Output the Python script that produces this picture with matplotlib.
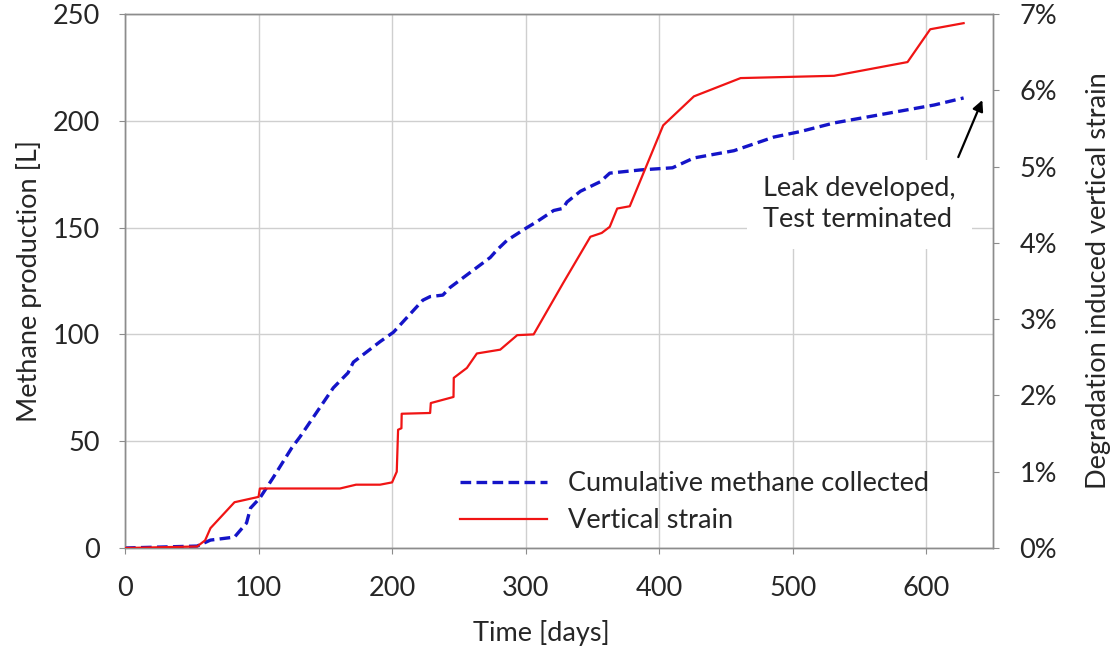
import matplotlib
matplotlib.use("Agg")
import matplotlib.pyplot as plt
from matplotlib.ticker import FuncFormatter

plt.rcParams['font.family'] = ['Lato', 'DejaVu Sans']

# ---- data ----
days_methane = [0, 54, 64, 82, 91, 94, 101, 111, 125, 131, 156, 167, 171, 191, 201,
                223, 228.5, 238, 243.5, 273.5, 278.5, 286, 301, 308.5, 321, 328, 331,
                341, 356, 363, 386, 410, 426, 456, 486, 506, 531, 556, 581, 606, 628]
methane_L = [0, 0.9, 3.7, 5.1, 11.7, 18.7, 23.4, 33, 47, 52, 75, 82, 87, 96.6, 101,
             116, 117.7, 118.4, 122, 136, 139.5, 144, 150, 152.8, 158, 159, 162,
             167, 171.5, 175.5, 177, 178, 182.6, 186, 192.4, 195, 199, 201.8, 204.6, 207.4, 210.7]

days_strain = [0, 54, 60, 64, 82, 100, 101, 161, 173, 191, 200, 203.5, 204.5, 207, 207.2,
               228.5, 229, 246, 246.2, 256, 263.5, 281, 293.7, 306, 328, 348.5, 357, 363,
               368.6, 378, 403, 426, 461, 531, 586, 603, 628]
strain_pct = [0, 0.02, 0.1, 0.26, 0.6, 0.67, 0.78, 0.78, 0.83, 0.83, 0.86, 1.0, 1.55, 1.57, 1.76,
              1.77, 1.9, 1.98, 2.23, 2.36, 2.55, 2.6, 2.79, 2.8, 3.47, 4.08, 4.13, 4.21,
              4.45, 4.48, 5.54, 5.92, 6.16, 6.19, 6.37, 6.8, 6.88]

x_ticks = [0, 100, 200, 300, 400, 500, 600]
y_ticks = [0, 50, 100, 150, 200, 250]
y2_ticks = [0, 1, 2, 3, 4, 5, 6, 7]

label_methane = "Cumulative methane collected"
label_strain = "Vertical strain"
note_text = "Leak developed,\nTest terminated"
note_xy = (642, 209.7)
note_tail = (624, 183)
note_pos = (478, 161)

FS = 19.5
spine_col = '#8c8c8c'
grid_col = '#cfcfcf'
txt_col = '#262626'

fig = plt.figure(figsize=(11.19, 6.55), dpi=100)
ax = fig.add_axes([125/1119, 1 - 548/655, (993-125)/1119, (548-14)/655])
ax2 = ax.twinx()

l1, = ax.plot(days_methane, methane_L, color='#1414c8', lw=2.4, ls=(0, (3.2, 1.6)),
              label=label_methane, zorder=3)
l2, = ax2.plot(days_strain, strain_pct, color='#f01414', lw=1.6, label=label_strain, zorder=3)

ax.set_xlim(0, 650)
ax.set_ylim(0, 250)
ax2.set_ylim(0, 7)
ax.set_xticks(x_ticks)
ax.set_yticks(y_ticks)
ax2.set_yticks(y2_ticks)
ax2.yaxis.set_major_formatter(FuncFormatter(lambda v, p: f"{v:.0f}%"))

ax.grid(True, color=grid_col, lw=1.0)
ax.set_axisbelow(True)

for a in (ax, ax2):
    for s in a.spines.values():
        s.set_color(spine_col)
        s.set_linewidth(1.0)
ax.tick_params(axis='both', direction='out', length=4, color=spine_col, labelsize=FS,
               labelcolor=txt_col)
ax.tick_params(axis='y', pad=14)
ax.tick_params(axis='x', pad=16)
ax2.tick_params(axis='y', direction='out', length=4, color=spine_col, labelsize=FS,
                labelcolor=txt_col, pad=15)

ax.set_xlabel("Time [days]", fontsize=FS, color=txt_col)
ax.xaxis.set_label_coords((541-125)/(993-125), -0.135)
ax.set_ylabel("Methane production [L]", fontsize=FS, color=txt_col)
ax.yaxis.set_label_coords(-(125-42)/(993-125), 0.5)
ax2.set_ylabel("Degradation induced vertical strain", fontsize=FS, color=txt_col, labelpad=21)

ax.text(note_pos[0], note_pos[1], note_text, fontsize=FS, color=txt_col, ha='left', va='center',
        linespacing=1.33, zorder=2.5,
        bbox=dict(boxstyle='square,pad=0.6', facecolor='white', edgecolor='none'))
ax.annotate('', xy=note_xy, xytext=note_tail,
            arrowprops=dict(arrowstyle='-|>', color='black', lw=1.6, mutation_scale=16,
                            shrinkA=0, shrinkB=0), zorder=5)

leg = ax2.legend([l1, l2], [label_methane, label_strain], loc='lower left',
                 bbox_to_anchor=((449-125)/(993-125), (548-544)/(548-14)),
                 frameon=False, fontsize=FS, handlelength=3.2, handletextpad=0.78,
                 labelspacing=0.45, borderaxespad=0)
for t in leg.get_texts():
    t.set_color(txt_col)

fig.savefig("out.png", dpi=100)
